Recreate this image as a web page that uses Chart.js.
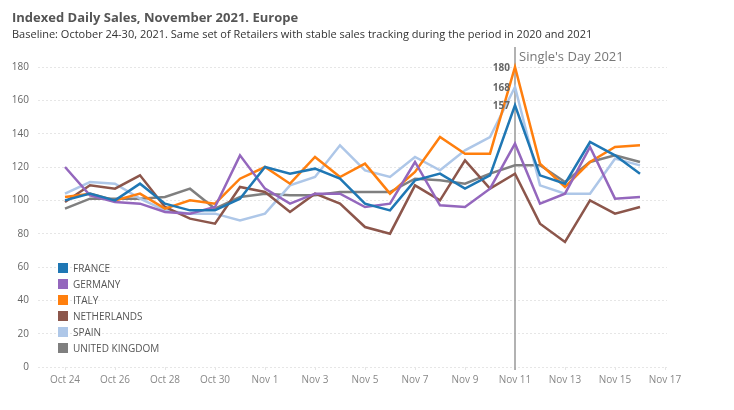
<!DOCTYPE html>
<html>
<head>
<meta charset="utf-8">
<script src="https://cdn.jsdelivr.net/npm/chart.js@4"></script>
<style>
  body { margin: 0; background: #fff; }
  #wrap { position: relative; width: 734px; height: 410px; }
  #title { position: absolute; left: 12px; top: 8px; font: bold 13px "Open Sans", sans-serif; color: #555; }
  #subtitle { position: absolute; left: 12px; top: 26px; font: 11px "Open Sans", sans-serif; color: #333; }
  canvas { position: absolute; left: 0; top: 0; }
</style>
</head>
<body>
<div id="wrap">
  <canvas id="chart" width="734" height="410"></canvas>
  <div id="title">Indexed Daily Sales, November 2021. Europe</div>
  <div id="subtitle">Baseline: October 24-30, 2021. Same set of Retailers with stable sales tracking during the period in 2020 and 2021</div>
</div>
<script>
// days on the x axis (Oct 24 .. Nov 17)
const days = ['Oct 24','Oct 25','Oct 26','Oct 27','Oct 28','Oct 29','Oct 30','Oct 31',
  'Nov 1','Nov 2','Nov 3','Nov 4','Nov 5','Nov 6','Nov 7','Nov 8','Nov 9','Nov 10',
  'Nov 11','Nov 12','Nov 13','Nov 14','Nov 15','Nov 16','Nov 17'];

const france      = [100, 104, 100, 110, 98, 94, 94, 101, 120, 116, 119, 113, 98, 94, 112, 116, 107, 115, 157, 115, 110, 135, 127, 116];
const germany     = [120, 103, 99, 98, 93, 92, 96, 127, 107, 98, 104, 104, 96, 98, 123, 97, 96, 107, 134, 98, 104, 132, 101, 102];
const italy       = [102, 104, 100, 104, 95, 100, 98, 113, 120, 110, 126, 114, 122, 104, 117, 138, 128, 128, 180, 122, 108, 123, 132, 133];
const netherlands = [99, 109, 107, 115, 96, 89, 86, 108, 105, 93, 104, 98, 84, 80, 109, 100, 124, 107, 116, 86, 75, 100, 92, 96];
const spain       = [104, 111, 110, 101, 94, 92, 92, 88, 92, 109, 114, 133, 118, 114, 126, 118, 130, 138, 168, 109, 104, 104, 125, 121];
const uk          = [95, 101, 101, 101, 102, 107, 95, 102, 104, 103, 103, 105, 105, 105, 113, 112, 110, 116, 121, 121, 111, 123, 127, 123];

const yTicks = [0, 20, 40, 60, 80, 100, 120, 140, 160, 180];
const xTickIdx = [0, 2, 4, 6, 8, 10, 12, 14, 16, 18, 20, 22, 24];
const singlesDay = 18; // Nov 11
const labelled = ['FRANCE', 'ITALY', 'SPAIN']; // value labels on Single's Day

const series = [
  { name: 'FRANCE', data: france, color: '#1f77b4' },
  { name: 'GERMANY', data: germany, color: '#9467bd' },
  { name: 'ITALY', data: italy, color: '#ff7f0e' },
  { name: 'NETHERLANDS', data: netherlands, color: '#8c564b' },
  { name: 'SPAIN', data: spain, color: '#aec7e8' },
  { name: 'UNITED KINGDOM', data: uk, color: '#7f7f7f' }
];

const fontFam = '"Open Sans", sans-serif';

// vertical marker, value labels and legend
const extras = {
  id: 'extras',
  beforeDatasetsDraw(chart) {
    const ctx = chart.ctx;
    const x = chart.scales.x.getPixelForValue(singlesDay);
    ctx.save();
    ctx.strokeStyle = '#999';
    ctx.lineWidth = 1.5;
    ctx.beginPath();
    ctx.moveTo(x, chart.chartArea.top);
    ctx.lineTo(x, chart.chartArea.bottom + 3);
    ctx.stroke();
    ctx.restore();
  },
  afterDatasetsDraw(chart) {
    const ctx = chart.ctx;
    const xs = chart.scales.x, ys = chart.scales.y;
    const x = xs.getPixelForValue(singlesDay);
    ctx.save();
    ctx.fillStyle = '#777';
    ctx.font = '13px ' + fontFam;
    ctx.textAlign = 'left';
    ctx.textBaseline = 'middle';
    ctx.fillText("Single's Day 2021", x + 4, chart.chartArea.top + 10);

    ctx.font = 'bold 10px ' + fontFam;
    ctx.fillStyle = '#666';
    ctx.textAlign = 'right';
    series.forEach(s => {
      if (!labelled.includes(s.name)) return;
      const v = s.data[singlesDay];
      ctx.fillText(String(v), x - 5, ys.getPixelForValue(v) + 1);
    });

    // legend
    const lx = 58, ly = 268, step = 16;
    ctx.font = '10px ' + fontFam;
    ctx.textAlign = 'left';
    series.forEach((s, i) => {
      const y = ly + i * step;
      ctx.fillStyle = s.color;
      ctx.fillRect(lx, y - 5, 10, 10);
      ctx.fillStyle = '#555';
      ctx.fillText(s.name, lx + 15, y + 1);
    });
    ctx.restore();
  }
};

new Chart(document.getElementById('chart'), {
  type: 'line',
  data: {
    datasets: series.map(s => ({
      label: s.name,
      data: s.data.map((v, i) => ({ x: i, y: v })),
      borderColor: s.color,
      backgroundColor: s.color,
      borderWidth: 2.5,
      pointRadius: 0,
      tension: 0,
      fill: false
    }))
  },
  options: {
    responsive: false,
    animation: false,
    layout: { padding: { top: 47, right: 67, bottom: 0, left: 0 } },
    plugins: { legend: { display: false }, tooltip: { enabled: false } },
    scales: {
      x: {
        type: 'linear',
        min: -1.08,
        max: 24.08,
        afterFit: s => { s.height = 43; },
        afterBuildTicks: s => { s.ticks = xTickIdx.map(v => ({ value: v })); },
        grid: { display: true, drawOnChartArea: false, tickLength: 3, color: '#e6e6e6' },
        border: { display: false },
        ticks: {
          color: '#888',
          font: { family: fontFam, size: 10 },
          padding: 4,
          maxRotation: 0,
          autoSkip: false,
          callback: v => days[v]
        }
      },
      y: {
        min: 0,
        max: 192,
        afterFit: s => { s.width = 38; },
        afterBuildTicks: s => { s.ticks = yTicks.map(v => ({ value: v })); },
        grid: { color: '#e6e6e6', drawTicks: false },
        border: { display: false, dash: [2, 2] },
        ticks: {
          color: '#666',
          font: { family: fontFam, size: 10 },
          padding: 9
        }
      }
    }
  },
  plugins: [extras]
});
</script>
</body>
</html>
